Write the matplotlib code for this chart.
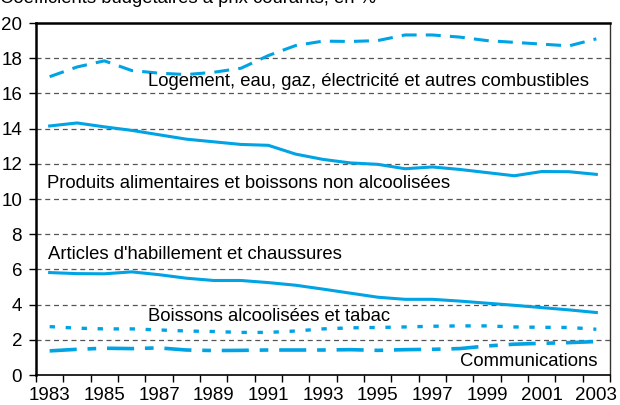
import numpy as np
import matplotlib
matplotlib.use('Agg')
import matplotlib.pyplot as plt

plt.rcParams['font.family'] = ['Liberation Sans', 'DejaVu Sans']

# données (coefficients budgétaires, en %)
annees = list(range(1983, 2004))
logement = [16.95, 17.5, 17.85, 17.3, 17.15, 17.07, 17.2, 17.43, 18.15, 18.72, 18.97,
            18.95, 19.0, 19.32, 19.32, 19.2, 19.0, 18.9, 18.8, 18.7, 19.1]
alimentaire = [14.15, 14.32, 14.1, 13.9, 13.65, 13.4, 13.25, 13.1, 13.05, 12.55, 12.25,
               12.05, 11.97, 11.72, 11.82, 11.68, 11.5, 11.32, 11.56, 11.55, 11.4]
habillement = [5.82, 5.76, 5.75, 5.86, 5.7, 5.5, 5.37, 5.37, 5.25, 5.1, 4.88,
               4.65, 4.42, 4.3, 4.3, 4.2, 4.08, 3.96, 3.83, 3.7, 3.55]
boissons = [2.75, 2.66, 2.62, 2.62, 2.56, 2.5, 2.47, 2.42, 2.42, 2.5, 2.62,
            2.68, 2.7, 2.73, 2.77, 2.79, 2.79, 2.73, 2.71, 2.7, 2.6]
communications = [1.37, 1.46, 1.52, 1.5, 1.54, 1.42, 1.39, 1.4, 1.42, 1.42, 1.42,
                  1.44, 1.4, 1.44, 1.46, 1.5, 1.65, 1.75, 1.8, 1.84, 1.9]

bleu = '#00a3e3'

fig = plt.figure(figsize=(6.2, 4.05), dpi=100)
ax = fig.add_axes([36 / 620, 1 - 375 / 405, 574 / 620, 352 / 405])

ax.plot(annees, logement, color=bleu, lw=2.2, linestyle=(0, (4.9, 3.0)))
ax.plot(annees, alimentaire, color=bleu, lw=2.2)
ax.plot(annees, habillement, color=bleu, lw=2.2)
ax.plot(annees, boissons, color=bleu, lw=2.4, linestyle=(0, (1.6, 3.2)))
ax.plot(annees, communications, color=bleu, lw=2.6, linestyle=(0, (7.5, 3.0, 2.4, 3.0)))

ax.set_xlim(1982.5, 2003.5)
ax.set_ylim(0, 20)

# grille horizontale en pointillés
for y in range(2, 20, 2):
    ax.axhline(y, color='#555555', lw=0.9, linestyle=(0, (4, 3)), zorder=0)

ax.set_yticks(range(0, 21, 2))
ax.set_xticks(range(1983, 2004, 2))
ax.set_xticks(np.arange(1982.5, 2004, 1), minor=True)
ax.tick_params(axis='x', which='major', length=0, pad=9, labelsize=13.5)
ax.tick_params(axis='x', which='minor', length=5, width=1, direction='out')
ax.tick_params(axis='y', length=5, width=1, pad=5, labelsize=13.5)

ax.spines['top'].set_linewidth(1.8)
ax.spines['left'].set_linewidth(1.8)
ax.spines['right'].set_linewidth(1.0)
ax.spines['right'].set_color('#333333')
ax.spines['bottom'].set_linewidth(1.2)

fs = 13.3
ax.text(1986.6, 16.65, "Logement, eau, gaz, électricité et autres combustibles",
        fontsize=fs, va='center', ha='left')
ax.text(1982.9, 10.9, "Produits alimentaires et boissons non alcoolisées",
        fontsize=fs, va='center', ha='left')
ax.text(1982.95, 6.82, "Articles d'habillement et chaussures",
        fontsize=fs, va='center', ha='left')
ax.text(1986.6, 3.35, "Boissons alcoolisées et tabac",
        fontsize=fs, va='center', ha='left')
ax.text(2003.05, 0.74, "Communications",
        fontsize=fs, va='center', ha='right')

# titre coupé en haut de l'image
fig.text(0.0, 1 - 3 / 405, "Coefficients budgétaires à prix courants, en %",
         fontsize=13.3, va='baseline', ha='left')

fig.savefig('out.png', dpi=100)
